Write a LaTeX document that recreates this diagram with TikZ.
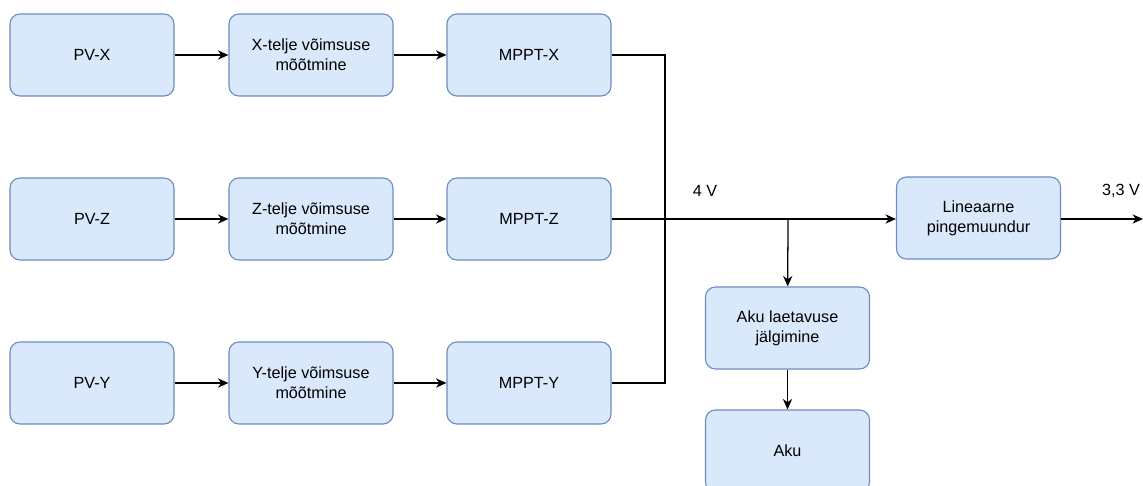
\documentclass[tikz,border=0pt]{standalone}
\usepackage{fontspec}
\setmainfont{Liberation Sans}
\usetikzlibrary{arrows.meta}
\definecolor{boxfill}{HTML}{DAE8FC}
\definecolor{boxline}{HTML}{6C8EBF}

\begin{document}
\begin{tikzpicture}[x=0.025cm, y=-0.025cm,
    block/.style={draw=boxline, fill=boxfill, line width=0.8pt, rounded corners=0.25cm,
      minimum width=4.1cm, minimum height=2.05cm, align=center, inner sep=2pt,
      font=\fontsize{11.5}{14}\selectfont},
    wire/.style={line width=0.9pt},
    >={Stealth[length=2.6mm, width=2.3mm, inset=0.8mm]},
    lbl/.style={font=\fontsize{11.5}{14}\selectfont}]

  \clip (0,0) rectangle (1143,486);

  % Panels
  \node[block] (pvx) at (92,55) {PV-X};
  \node[block] (pvz) at (92,219) {PV-Z};
  \node[block] (pvy) at (92,383) {PV-Y};

  % Power measurement
  \node[block] (mx) at (311,55) {X-telje võimsuse\\mõõtmine};
  \node[block] (mz) at (311,219) {Z-telje võimsuse\\mõõtmine};
  \node[block] (my) at (311,383) {Y-telje võimsuse\\mõõtmine};

  % MPPT
  \node[block] (mpptx) at (529,55) {MPPT-X};
  \node[block] (mpptz) at (529,219) {MPPT-Z};
  \node[block] (mppty) at (529,383) {MPPT-Y};

  % Regulator and battery
  \node[block] (lin) at (978.5,218) {Lineaarne\\pingemuundur};
  \node[block] (akul) at (787.5,328) {Aku laetavuse\\jälgimine};
  \node[block] (aku) at (787.5,451) {Aku};

  \coordinate (bus) at (665,219);
  \coordinate (tap) at (788,219);
  \coordinate (out) at (1143,219);

  % Connections
  \draw[->, wire] (pvx) -- (mx);
  \draw[->, wire] (pvz) -- (mz);
  \draw[->, wire] (pvy) -- (my);
  \draw[->, wire] (mx) -- (mpptx);
  \draw[->, wire] (mz) -- (mpptz);
  \draw[->, wire] (my) -- (mppty);

  \draw[wire] (mpptx.east) -| (bus);
  \draw[wire] (mppty.east) -| (bus);
  \draw[->, wire] (mpptz.east) -- (lin.west |- bus);
  \draw[->, wire] (tap) -- (akul);
  \draw[->, wire] (akul) -- (aku);
  \draw[->, wire] (lin.east |- out) -- (out);

  % Voltages
  \node[lbl] (v4) at (705,191) {4 V};
  \node[lbl] (v33) at (1121,191) {3,3 V};

\end{tikzpicture}
\end{document}
